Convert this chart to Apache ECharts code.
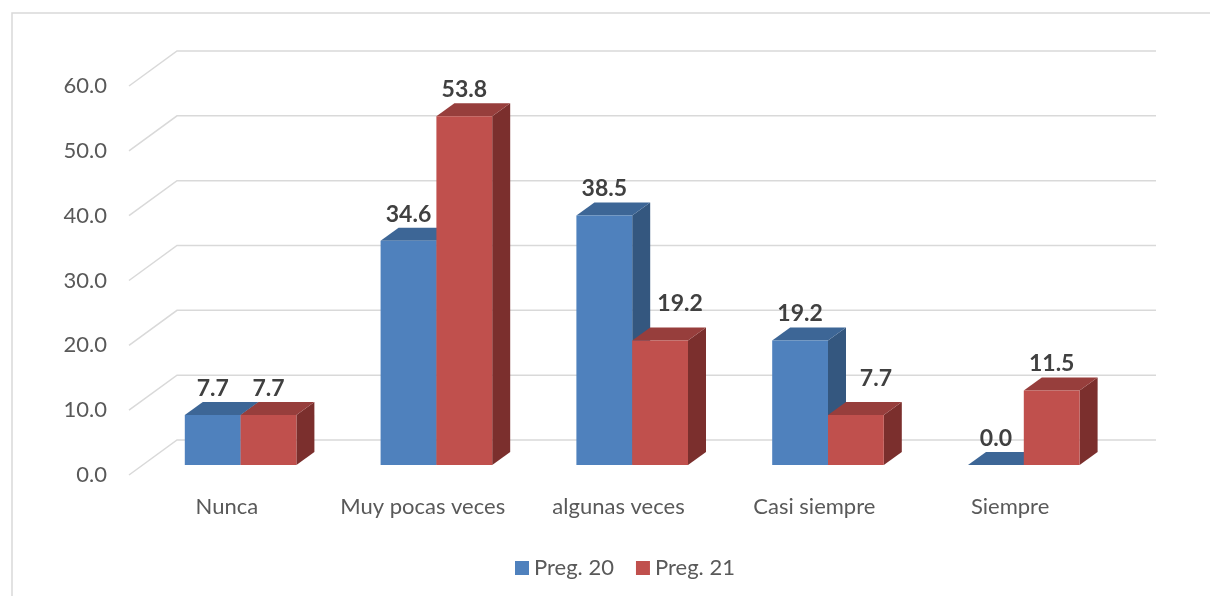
<!DOCTYPE html>
<html>
<head>
<meta charset="utf-8">
<script src="https://cdn.jsdelivr.net/npm/echarts@6/dist/echarts.min.js"></script>
<style>
  html, body { margin: 0; padding: 0; background: #fff; }
  #chart { width: 1210px; height: 596px; }
</style>
</head>
<body>
<div id="chart"></div>
<script>
// Survey answers (percent) for two questions
const categories = ['Nunca', 'Muy pocas veces', 'algunas veces', 'Casi siempre', 'Siempre'];
const preg20 = [7.7, 34.6, 38.5, 19.2, 0.0];
const preg21 = [7.7, 53.8, 19.2, 7.7, 11.5];
const seriesNames = ['Preg. 20', 'Preg. 21'];
const yTicks = [0, 10, 20, 30, 40, 50, 60];

const FONT = 'Lato, "Open Sans", sans-serif';

// Pseudo-3D geometry (pixels)
const FLOOR_DX = 48, FLOOR_DY = -35;   // front edge of floor -> back wall
const BAR_OX = 13.7, BAR_OY = -10;     // front face of bars inside the floor depth
const BAR_DX = 18, BAR_DY = -13;       // thickness of each bar
const BAR_FRAC = 0.285;                // bar width as share of category band

const palettes = [
  { front: '#4F81BD', top: '#3D6696', side: '#34577F' },
  { front: '#C0504D', top: '#973E3C', side: '#7B2F2D' }
];
const seriesValues = [preg20, preg21];

const chart = echarts.init(document.getElementById('chart'), null, { renderer: 'canvas' });

function gridRender(params, api) {
  const v = api.value(1);
  const p = api.coord([0, v]);
  const cs = params.coordSys;
  const y = p[1];
  const xl = cs.x;
  const xr = cs.x + cs.width;
  return {
    type: 'polyline',
    shape: { points: [[xl, y], [xl + FLOOR_DX, y + FLOOR_DY], [xr + FLOOR_DX, y + FLOOR_DY]] },
    style: { stroke: '#D9D9D9', lineWidth: 1.5, fill: null },
    silent: true
  };
}

function makeBarRender(s) {
  const pal = palettes[s];
  return function (params, api) {
    const cat = api.value(0);
    const v = api.value(1);
    const base = api.coord([cat, 0]);
    const top = api.coord([cat, v]);
    const band = api.size([1, 0])[0];
    const w = band * BAR_FRAC;
    const x0 = base[0] + BAR_OX + (s === 0 ? -w : 0);
    const x1 = x0 + w;
    const yb = base[1] + BAR_OY;
    const yt = top[1] + BAR_OY;
    // a right-hand label is nudged clear of a taller left neighbour
    let lx = x0 + w / 2, ly = yt + BAR_DY - 2;
    if (s === 1 && seriesValues[0][cat] > v) {
      lx += 20;
      ly -= 10;
    }
    return {
      type: 'group',
      children: [
        {
          type: 'polygon',
          shape: { points: [[x1, yt], [x1, yb], [x1 + BAR_DX, yb + BAR_DY], [x1 + BAR_DX, yt + BAR_DY]] },
          style: { fill: pal.side }
        },
        {
          type: 'polygon',
          shape: { points: [[x0, yt], [x1, yt], [x1 + BAR_DX, yt + BAR_DY], [x0 + BAR_DX, yt + BAR_DY]] },
          style: { fill: pal.top }
        },
        {
          type: 'rect',
          shape: { x: x0, y: yt, width: w, height: yb - yt },
          style: { fill: pal.front }
        },
        {
          type: 'text',
          x: lx,
          y: ly,
          z2: 10,
          style: {
            text: v.toFixed(1),
            fill: '#404040',
            font: 'bold 23px ' + FONT,
            align: 'center',
            verticalAlign: 'bottom'
          }
        }
      ]
    };
  };
}

const option = {
  backgroundColor: '#fff',
  animation: false,
  graphic: [{
    type: 'rect',
    shape: { x: 12, y: 13, width: 1400, height: 800 },
    style: { fill: null, stroke: '#D9D9D9', lineWidth: 1.5 },
    silent: true
  }],
  legend: {
    data: seriesNames,
    top: 552,
    left: 510,
    icon: 'rect',
    itemWidth: 14,
    itemHeight: 14,
    itemGap: 22,
    textStyle: { color: '#595959', fontSize: 22, fontFamily: FONT }
  },
  grid: { left: 129, width: 979, top: 86, bottom: 121 },
  xAxis: {
    type: 'category',
    data: categories,
    axisLine: { show: false },
    axisTick: { show: false },
    axisLabel: { color: '#595959', fontSize: 22, fontFamily: FONT, margin: 21, interval: 0 }
  },
  yAxis: {
    type: 'value',
    min: 0,
    max: 60,
    interval: 10,
    splitLine: { show: false },
    axisLine: { show: false },
    axisTick: { show: false },
    axisLabel: {
      color: '#595959', fontSize: 22, fontFamily: FONT, margin: 22,
      formatter: v => v.toFixed(1)
    }
  },
  series: [
    {
      type: 'custom',
      name: 'grid',
      silent: true,
      renderItem: gridRender,
      data: yTicks.map(t => [0, t]),
      z: 1
    },
    {
      type: 'custom',
      name: seriesNames[0],
      renderItem: makeBarRender(0),
      itemStyle: { color: palettes[0].front },
      data: preg20.map((v, i) => [i, v]),
      z: 2
    },
    {
      type: 'custom',
      name: seriesNames[1],
      renderItem: makeBarRender(1),
      itemStyle: { color: palettes[1].front },
      data: preg21.map((v, i) => [i, v]),
      z: 3
    }
  ]
};

chart.setOption(option);
</script>
</body>
</html>
